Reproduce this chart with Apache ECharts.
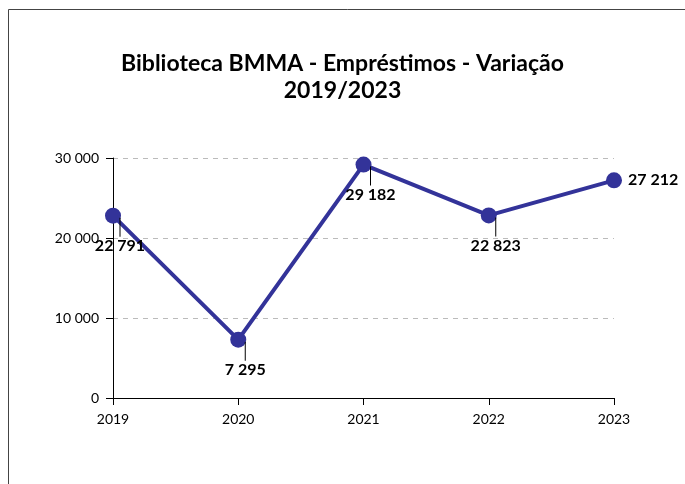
<!DOCTYPE html>
<html>
<head>
<meta charset="utf-8">
<script src="https://cdn.jsdelivr.net/npm/echarts@6/dist/echarts.min.js"></script>
<style>
  html, body { margin: 0; padding: 0; background: #fff; }
  #chart { width: 685px; height: 484px; }
</style>
</head>
<body>
<div id="chart"></div>
<script>
// dados
const anos = ['2019', '2020', '2021', '2022', '2023'];
const emprestimos = [22791, 7295, 29182, 22823, 27212];
const yTicks = [0, 10000, 20000, 30000];

// 22 791 -> separador de milhares com espaço
function fmt(v) {
    return String(v).replace(/\B(?=(\d{3})+(?!\d))/g, ' ');
}

const fonte = 'Lato, "Open Sans", sans-serif';
const chart = echarts.init(document.getElementById('chart'));

chart.setOption({
    backgroundColor: '#fff',
    animation: false,
    title: {
        text: 'Biblioteca BMMA - Empréstimos - Variação\n2019/2023',
        left: 'center',
        top: 45,
        textStyle: { fontFamily: fonte, fontSize: 23, fontWeight: 'bold', color: '#000', lineHeight: 27 }
    },
    graphic: [{
        type: 'rect',
        shape: { x: 8.5, y: 9.5, width: 720, height: 520 },
        style: { fill: 'none', stroke: '#444', lineWidth: 1 },
        silent: true
    }],
    grid: { left: 113, right: 71, top: 158, bottom: 86 },
    xAxis: {
        type: 'category',
        data: anos,
        boundaryGap: false,
        axisLine: { lineStyle: { color: '#000', width: 1 } },
        axisTick: { show: true, length: 7, lineStyle: { color: '#000' } },
        axisLabel: { fontFamily: fonte, fontSize: 14, color: '#000', margin: 14 }
    },
    yAxis: {
        type: 'value',
        min: yTicks[0],
        max: yTicks[yTicks.length - 1],
        interval: 10000,
        axisLine: { show: true, lineStyle: { color: '#000', width: 1 } },
        axisTick: { show: true, length: 7, lineStyle: { color: '#000' } },
        axisLabel: { fontFamily: fonte, fontSize: 14, color: '#000', margin: 14, formatter: v => fmt(v) },
        splitLine: { lineStyle: { color: '#bbb', type: [5, 5], width: 1 } }
    },
    series: [{
        type: 'line',
        data: emprestimos.map((v, i) => ({
            value: v,
            label: i === emprestimos.length - 1
                ? { position: 'right', distance: 6, align: 'left', formatter: p => '{v|' + fmt(p.value) + '}' }
                : { position: 'bottom', distance: -6, offset: [7, 0] }
        })),
        symbol: 'circle',
        symbolSize: 16,
        lineStyle: { color: '#333399', width: 4 },
        itemStyle: { color: '#333399' },
        label: {
            show: true,
            align: 'center',
            formatter: p => '{l|}\n{v|' + fmt(p.value) + '}',
            rich: {
                l: { width: 1, height: 19, backgroundColor: '#000' },
                v: { fontFamily: fonte, fontSize: 16, fontWeight: 'bold', color: '#000', lineHeight: 18 }
            }
        }
    }]
});
</script>
</body>
</html>
